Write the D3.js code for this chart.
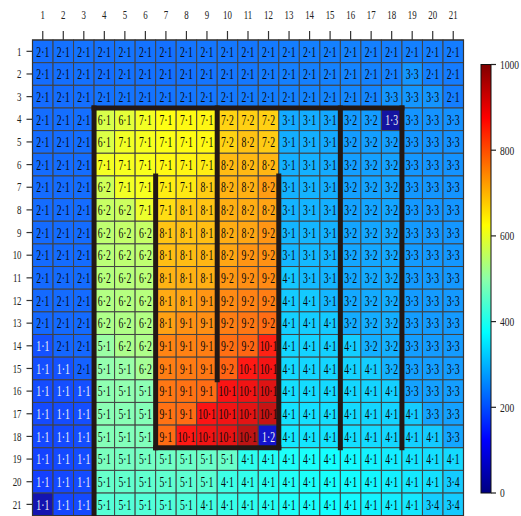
<!DOCTYPE html>
<html>
<head>
<meta charset="utf-8">
<script src="https://cdn.jsdelivr.net/npm/d3@7"></script>
<style>
  html, body { margin: 0; padding: 0; background: #fff; }
  svg { display: block; }
</style>
</head>
<body>
<svg id="chart" width="521" height="516"></svg>
<script>
// Grid axes
const colLabels = d3.range(1, 22).map(String);
const rowLabels = d3.range(1, 22).map(String);

// Cluster id shown in each cell, one string per row
const clusterRows = [
  "2·1 2·1 2·1 2·1 2·1 2·1 2·1 2·1 2·1 2·1 2·1 2·1 2·1 2·1 2·1 2·1 2·1 2·1 2·1 2·1 2·1",
  "2·1 2·1 2·1 2·1 2·1 2·1 2·1 2·1 2·1 2·1 2·1 2·1 2·1 2·1 2·1 2·1 2·1 2·1 3·3 2·1 2·1",
  "2·1 2·1 2·1 2·1 2·1 2·1 2·1 2·1 2·1 2·1 2·1 2·1 2·1 2·1 2·1 2·1 2·1 3·3 3·3 3·3 2·1",
  "2·1 2·1 2·1 6·1 6·1 7·1 7·1 7·1 7·1 7·2 7·2 7·2 3·1 3·1 3·1 3·2 3·2 1·3 3·3 3·3 3·3",
  "2·1 2·1 2·1 6·1 7·1 7·1 7·1 7·1 7·1 7·2 8·2 7·2 3·1 3·1 3·1 3·2 3·2 3·2 3·3 3·3 3·3",
  "2·1 2·1 2·1 7·1 7·1 7·1 7·1 7·1 7·1 8·2 8·2 8·2 3·1 3·1 3·1 3·2 3·2 3·2 3·3 3·3 3·3",
  "2·1 2·1 2·1 6·2 7·1 7·1 7·1 7·1 8·1 8·2 8·2 8·2 3·1 3·1 3·1 3·2 3·2 3·2 3·3 3·3 3·3",
  "2·1 2·1 2·1 6·2 6·2 7·1 7·1 8·1 8·1 8·2 8·2 8·2 3·1 3·1 3·1 3·2 3·2 3·2 3·3 3·3 3·3",
  "2·1 2·1 2·1 6·2 6·2 6·2 8·1 8·1 8·1 8·2 8·2 9·2 3·1 3·1 3·1 3·2 3·2 3·2 3·3 3·3 3·3",
  "2·1 2·1 2·1 6·2 6·2 6·2 8·1 8·1 8·1 8·2 9·2 9·2 3·1 3·1 3·1 3·2 3·2 3·2 3·3 3·3 3·3",
  "2·1 2·1 2·1 6·2 6·2 6·2 8·1 8·1 8·1 9·2 9·2 9·2 4·1 3·1 3·1 3·2 3·2 3·2 3·3 3·3 3·3",
  "2·1 2·1 2·1 6·2 6·2 6·2 8·1 8·1 9·1 9·2 9·2 9·2 4·1 4·1 3·1 3·2 3·2 3·2 3·3 3·3 3·3",
  "2·1 2·1 2·1 6·2 6·2 6·2 8·1 9·1 9·1 9·2 9·2 9·2 4·1 4·1 4·1 3·2 3·2 3·2 3·3 3·3 3·3",
  "1·1 2·1 2·1 5·1 6·2 6·2 9·1 9·1 9·1 9·2 9·2 10·1 4·1 4·1 4·1 4·1 3·2 3·2 3·3 3·3 3·3",
  "1·1 1·1 2·1 5·1 5·1 6·2 9·1 9·1 9·1 9·2 10·1 10·1 4·1 4·1 4·1 4·1 4·1 3·2 3·3 3·3 3·3",
  "1·1 1·1 1·1 5·1 5·1 5·1 9·1 9·1 9·1 10·1 10·1 10·1 4·1 4·1 4·1 4·1 4·1 4·1 3·3 3·3 3·3",
  "1·1 1·1 1·1 5·1 5·1 5·1 9·1 9·1 10·1 10·1 10·1 10·1 4·1 4·1 4·1 4·1 4·1 4·1 4·1 3·3 3·3",
  "1·1 1·1 1·1 5·1 5·1 5·1 9·1 10·1 10·1 10·1 10·1 1·2 4·1 4·1 4·1 4·1 4·1 4·1 4·1 4·1 3·3",
  "1·1 1·1 1·1 5·1 5·1 5·1 5·1 5·1 5·1 5·1 4·1 4·1 4·1 4·1 4·1 4·1 4·1 4·1 4·1 4·1 4·1",
  "1·1 1·1 1·1 5·1 5·1 5·1 5·1 5·1 5·1 4·1 4·1 4·1 4·1 4·1 4·1 4·1 4·1 4·1 4·1 4·1 3·4",
  "1·1 1·1 1·1 5·1 5·1 5·1 5·1 5·1 4·1 4·1 4·1 4·1 4·1 4·1 4·1 4·1 4·1 4·1 4·1 3·4 3·4"
];

// Cell values (0–1000), one array per row
const valueRows = [
  [222,224,226,225,228,226,224,228,230,232,230,235,238,240,240,242,240,238,240,238,236],
  [220,222,224,222,226,225,224,226,228,230,232,236,240,240,242,244,242,240,262,240,236],
  [218,220,222,226,228,226,228,230,232,234,236,238,242,244,246,248,246,262,264,262,238],
  [220,221,222,580,595,612,625,630,635,672,675,675,285,288,282,268,270,25,262,260,258],
  [219,220,221,585,610,615,622,628,632,672,690,680,288,290,284,270,272,272,262,260,258],
  [219,220,220,612,615,618,632,636,645,698,700,702,290,292,286,272,274,275,264,262,260],
  [218,219,220,570,610,615,645,650,678,705,708,730,292,294,288,274,276,277,265,263,261],
  [218,219,219,560,565,605,660,685,688,710,712,722,295,296,290,276,278,279,266,264,262],
  [217,218,219,550,555,558,688,690,695,712,720,738,297,298,292,278,280,281,267,265,263],
  [217,218,218,545,548,550,695,697,702,720,738,742,298,300,294,280,282,283,268,266,264],
  [216,217,218,540,542,545,705,708,710,735,745,750,315,302,296,282,284,285,269,267,265],
  [216,217,217,535,538,540,715,720,738,750,758,762,320,318,298,284,286,287,270,268,266],
  [215,216,217,530,532,535,725,742,745,762,770,780,325,322,318,286,288,289,271,269,267],
  [190,212,214,508,528,530,755,758,762,778,788,860,330,328,325,322,290,291,272,270,268],
  [188,190,208,500,505,520,762,765,770,790,870,885,335,332,330,327,322,293,274,272,270],
  [185,187,188,495,497,492,770,775,782,880,890,910,340,338,335,332,328,325,276,274,272],
  [183,185,187,490,488,485,775,782,878,890,905,935,345,342,340,336,332,328,320,278,275],
  [180,183,186,485,482,480,782,870,890,902,945,70,350,348,345,340,336,332,325,318,280],
  [175,182,185,475,470,468,465,462,460,458,400,390,385,380,375,370,362,355,348,340,335],
  [172,180,184,455,452,450,448,446,444,415,405,395,388,382,378,372,365,358,350,342,320],
  [40,178,183,440,438,436,434,432,420,410,400,392,386,380,375,368,362,355,350,322,318]
];

// Colour bar ticks
const colorTicks = [0, 200, 400, 600, 800, 1000];

// Cluster boundaries, in grid-edge units (columns/rows 0–21)
const walls = [
  { c1: 3,  r1: 3,  c2: 18, r2: 3 },
  { c1: 3,  r1: 3,  c2: 3,  r2: 21 },
  { c1: 6,  r1: 6,  c2: 6,  r2: 18 },
  { c1: 9,  r1: 3,  c2: 9,  r2: 15 },
  { c1: 6,  r1: 18, c2: 12, r2: 18 },
  { c1: 12, r1: 6,  c2: 12, r2: 18 },
  { c1: 15, r1: 3,  c2: 15, r2: 18 },
  { c1: 18, r1: 3,  c2: 18, r2: 18 }
];

const svg = d3.select("#chart");
const FONT = "'Liberation Serif', 'Times New Roman', serif";
const SQUISH = 0.74;

const grid = { left: 32.5, right: 463.5, top: 40, bottom: 515.7 };
const x = d3.scaleBand().domain(colLabels).range([grid.left, grid.right]);
const y = d3.scaleBand().domain(rowLabels).range([grid.top, grid.bottom]);
const xEdge = d3.scaleLinear().domain([0, 21]).range([grid.left, grid.right]);
const yEdge = d3.scaleLinear().domain([0, 21]).range([grid.top, grid.bottom]);

// Jet-like colour map with a softer mint in the middle
const jetDomain = [0, 125, 375, 500, 625, 875, 1000];
const jetRange = ["#000080", "#0000ff", "#00ffff", "#8cffa8", "#ffff00", "#ff0000", "#800000"];
const color = d3.scaleLinear().domain(jetDomain).range(jetRange).clamp(true);
const CELL_OPACITY = 0.92;

// Flatten to cell records
const cells = [];
valueRows.forEach((row, i) => {
  const ids = clusterRows[i].split(" ");
  row.forEach((v, j) => {
    cells.push({ row: rowLabels[i], col: colLabels[j], value: v, id: ids[j] });
  });
});

// Cells
const gCells = svg.append("g");
gCells.selectAll("rect")
  .data(cells)
  .join("rect")
  .attr("x", d => x(d.col))
  .attr("y", d => y(d.row))
  .attr("width", x.bandwidth())
  .attr("height", y.bandwidth())
  .attr("fill", d => color(d.value))
  .attr("fill-opacity", CELL_OPACITY)
  .attr("stroke", "#444")
  .attr("stroke-width", 1);

// Cell labels
gCells.selectAll("text")
  .data(cells)
  .join("text")
  .attr("transform", d => `translate(${x(d.col) + x.bandwidth() / 2},${y(d.row) + y.bandwidth() / 2}) scale(0.67,1)`)
  .attr("text-anchor", "middle")
  .attr("dy", "0.36em")
  .attr("font-family", FONT)
  .attr("font-size", 14.5)
  .attr("fill", d => d.value < 200 ? "#f2f2f2" : "#0a0a0a")
  .text(d => d.id);

// Outer frame
svg.append("rect")
  .attr("x", grid.left).attr("y", grid.top)
  .attr("width", grid.right - grid.left).attr("height", grid.bottom - grid.top)
  .attr("fill", "none").attr("stroke", "#333").attr("stroke-width", 1.2);

// Cluster boundaries
svg.append("g").selectAll("line")
  .data(walls)
  .join("line")
  .attr("x1", d => xEdge(d.c1)).attr("y1", d => yEdge(d.r1))
  .attr("x2", d => xEdge(d.c2)).attr("y2", d => yEdge(d.r2))
  .attr("stroke", "#231815")
  .attr("stroke-width", 5)
  .attr("stroke-linecap", "square");

// Column axis (top)
const gTop = svg.append("g");
gTop.selectAll("line")
  .data(colLabels)
  .join("line")
  .attr("x1", d => x(d) + x.bandwidth() / 2).attr("x2", d => x(d) + x.bandwidth() / 2)
  .attr("y1", 31).attr("y2", grid.top)
  .attr("stroke", "#333").attr("stroke-width", 1.2);
gTop.selectAll("text")
  .data(colLabels)
  .join("text")
  .attr("transform", d => `translate(${x(d) + x.bandwidth() / 2},15) scale(${SQUISH},1)`)
  .attr("text-anchor", "middle")
  .attr("dy", "0.35em")
  .attr("font-family", FONT)
  .attr("font-size", 12)
  .attr("fill", "#222")
  .text(d => d);

// Row axis (left)
const gLeft = svg.append("g");
gLeft.selectAll("line")
  .data(rowLabels)
  .join("line")
  .attr("y1", d => y(d) + y.bandwidth() / 2).attr("y2", d => y(d) + y.bandwidth() / 2)
  .attr("x1", 26.5).attr("x2", grid.left)
  .attr("stroke", "#333").attr("stroke-width", 1.2);
gLeft.selectAll("text")
  .data(rowLabels)
  .join("text")
  .attr("transform", d => `translate(21.5,${y(d) + y.bandwidth() / 2}) scale(${SQUISH},1)`)
  .attr("text-anchor", "end")
  .attr("dy", "0.35em")
  .attr("font-family", FONT)
  .attr("font-size", 12)
  .attr("fill", "#222")
  .text(d => d);

// Colour bar
const cb = { x: 481, w: 10 };
const cy = d3.scaleLinear().domain([0, 1000]).range([493, 64.5]);
const defs = svg.append("defs");
const grad = defs.append("linearGradient")
  .attr("id", "jetGrad")
  .attr("x1", 0).attr("y1", 1).attr("x2", 0).attr("y2", 0);
grad.selectAll("stop")
  .data(jetDomain)
  .join("stop")
  .attr("offset", d => d / 1000)
  .attr("stop-color", d => color(d));

svg.append("rect")
  .attr("x", cb.x).attr("y", cy(1000))
  .attr("width", cb.w).attr("height", cy(0) - cy(1000))
  .attr("fill", "url(#jetGrad)")
  .attr("stroke", "#111").attr("stroke-width", 1);

const gCb = svg.append("g");
gCb.selectAll("line")
  .data(colorTicks)
  .join("line")
  .attr("x1", cb.x + cb.w).attr("x2", cb.x + cb.w + 5)
  .attr("y1", d => cy(d)).attr("y2", d => cy(d))
  .attr("stroke", "#222").attr("stroke-width", 1.2);
gCb.selectAll("text")
  .data(colorTicks)
  .join("text")
  .attr("transform", d => `translate(500,${cy(d)}) scale(${SQUISH + 0.02},1)`)
  .attr("text-anchor", "start")
  .attr("dy", "0.35em")
  .attr("font-family", FONT)
  .attr("font-size", 12.5)
  .attr("fill", "#222")
  .text(d => d);
</script>
</body>
</html>
